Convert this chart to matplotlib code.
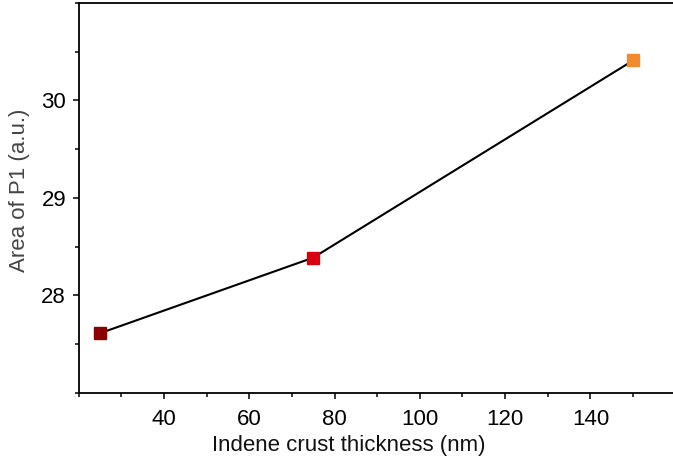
import matplotlib
matplotlib.use('Agg')
import matplotlib.pyplot as plt
from matplotlib.ticker import MultipleLocator

# data
thickness = [25, 75, 150]
area = [27.61, 28.386, 30.41]
colors = ['#8b0000', '#d7000f', '#f28a30']

plt.rcParams['font.family'] = ['Liberation Sans', 'DejaVu Sans']

fig = plt.figure(figsize=(6.73, 4.61), dpi=100)
ax = fig.add_axes([78.6 / 673, 1 - 392.7 / 461, (675.7 - 78.6) / 673, (392.7 - 3) / 461])

ax.plot(thickness, area, color='black', lw=1.5, zorder=2)
for xv, yv, c in zip(thickness, area, colors):
    ax.plot(xv, yv, 's', color=c, ms=8, mec=c, zorder=3)

ax.set_xlim(20, 160)
ax.set_ylim(27, 31)
ax.xaxis.set_minor_locator(MultipleLocator(10))
ax.yaxis.set_minor_locator(MultipleLocator(0.5))
ax.set_xticks([40, 60, 80, 100, 120, 140])
ax.set_yticks([28, 29, 30])

for s in ax.spines.values():
    s.set_linewidth(1.3)
ax.spines['right'].set_visible(False)
ax.tick_params(which='both', direction='out', width=1.1, labelsize=16, top=False, right=False)
ax.tick_params(which='major', length=4)
ax.tick_params(axis='x', which='major', pad=8)
ax.tick_params(axis='y', which='major', pad=5)
ax.tick_params(which='minor', length=3)

ax.set_xlabel('Indene crust thickness (nm)', fontsize=16, color='#111111')
ax.set_ylabel('Area of P1 (a.u.)', fontsize=16, color='#444444')
ax.xaxis.set_label_coords(0.453, -0.108)
ax.yaxis.set_label_coords(-0.082, 0.52)

fig.savefig('out.png', dpi=100)
